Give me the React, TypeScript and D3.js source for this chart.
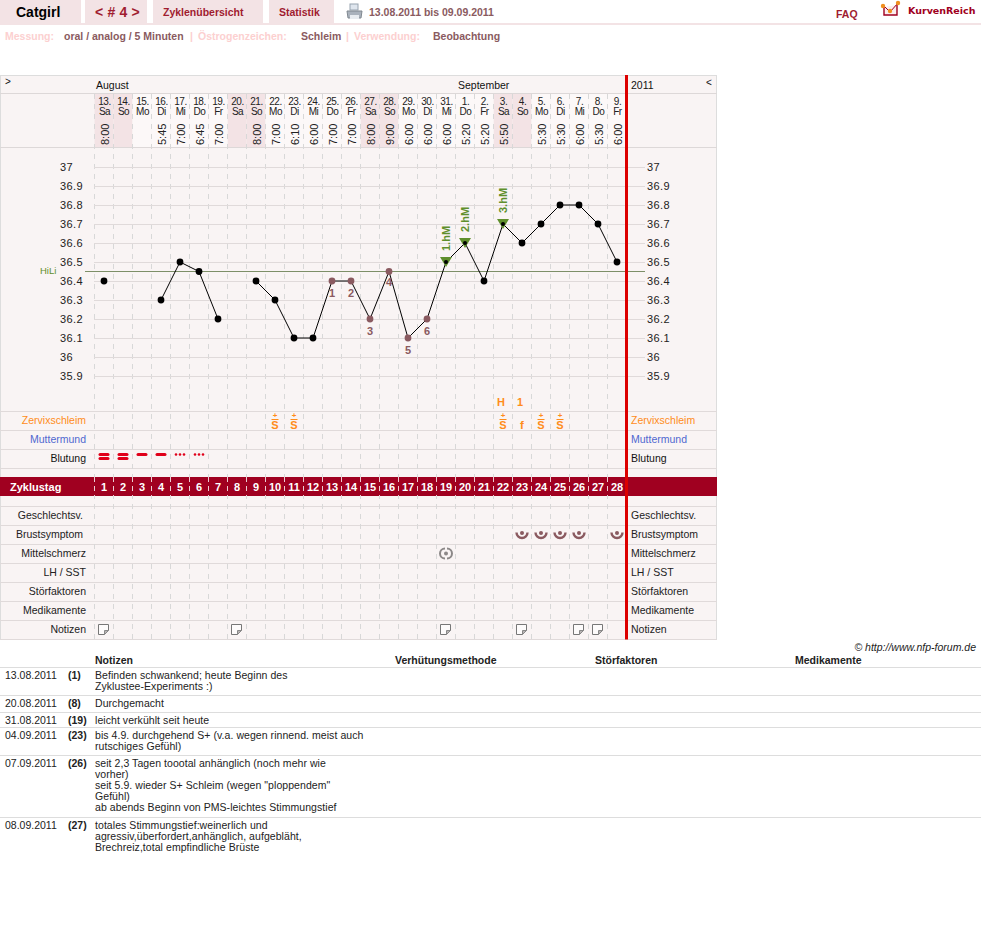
import React from "react";
import * as d3 from "d3";

const dayNumbers = ["13.","14.","15.","16.","17.","18.","19.","20.","21.","22.","23.","24.","25.","26.","27.","28.","29.","30.","31.","1.","2.","3.","4.","5.","6.","7.","8.","9."];
const weekdays = ["Sa","So","Mo","Di","Mi","Do","Fr","Sa","So","Mo","Di","Mi","Do","Fr","Sa","So","Mo","Di","Mi","Do","Fr","Sa","So","Mo","Di","Mi","Do","Fr"];
const times = ["8:00","","","5:45","7:00","6:45","7:00","","8:00","7:00","6:10","6:00","7:00","7:00","8:00","9:00","6:00","6:00","6:00","5:20","5:20","5:50","","5:30","5:30","6:00","5:30","6:00"];
const temps: (number | null)[] = [36.4,null,null,36.3,36.5,36.45,36.2,null,36.4,36.3,36.1,36.1,36.4,36.4,36.2,36.45,36.1,36.2,36.5,36.6,36.4,36.7,36.6,36.7,36.8,36.8,36.7,36.5];
const tempTicks = [37,36.9,36.8,36.7,36.6,36.5,36.4,36.3,36.2,36.1,36,35.9];
const coverLine = 36.45;
const lowDays = [[13,"1"],[14,"2"],[15,"3"],[16,"4"],[17,"5"],[18,"6"]] as [number,string][];
const highDays = [[19,"1.hM"],[20,"2.hM"],[22,"3.hM"]] as [number,string][];
const mucusDays = [10,11,22,24,25];
const fertileDay = [23];
const cervixTop = [[22,"H"],[23,"1"]] as [number,string][];
const bleedDouble = [1,2];
const bleedSingle = [3,4];
const bleedDots = [5,6];
const breastDays = [23,24,25,26,28];
const painDays = [19];
const noteDays = [1,8,19,23,26,27];
const rowLabels = [
  {name:"Zervixschleim",color:"#ff8c1a"},{name:"Muttermund",color:"#5068d0"},{name:"Blutung",color:"#111"},
];
const lowerLabels = ["Geschlechtsv.","Brustsymptom","Mittelschmerz","LH / SST","Störfaktoren","Medikamente","Notizen"];
const tableHeads = [["Notizen",95],["Verhütungsmethode",395],["Störfaktoren",595],["Medikamente",795]] as [string,number][];
const noteRows = [
  {date:"13.08.2011",day:"(1)",lines:["Befinden schwankend; heute Beginn des","Zyklustee-Experiments :)"]},
  {date:"20.08.2011",day:"(8)",lines:["Durchgemacht"]},
  {date:"31.08.2011",day:"(19)",lines:["leicht verkühlt seit heute"]},
  {date:"04.09.2011",day:"(23)",lines:["bis 4.9. durchgehend S+ (v.a. wegen rinnend. meist auch","rutschiges Gefühl)"]},
  {date:"07.09.2011",day:"(26)",lines:["seit 2,3 Tagen toootal anhänglich (noch mehr wie","vorher)","seit 5.9. wieder S+ Schleim (wegen \"ploppendem\"","Gefühl)","ab abends Beginn von PMS-leichtes Stimmungstief"]},
  {date:"08.09.2011",day:"(27)",lines:["totales Stimmungstief:weinerlich und","agressiv,überfordert,anhänglich, aufgebläht,","Brechreiz,total empfindliche Brüste"]},
];
const noteRowTops = [668,696,713,728,756,818];
const noteRules = [667,695,712,727,755,817];
const navTabs = [[0,81],[85,147],[153,263],[269,334]];

const FONT = "'Liberation Sans', Arial, sans-serif";
const days = d3.range(1, 29);
const x = d3.scaleBand<number>().domain(days).range([94.5, 626.5]);
const cx = (d: number) => (x(d) as number) + x.bandwidth() / 2;
const y = d3.scaleLinear().domain([35.9, 37]).range([376, 167]);
const GRID = "#e0dada", PANEL = "#f9f4f4", WEEKEND = "#f3e3e5", RED = "#a01c30", MUTED = "#8a5a60", CRIM = "#a00020", PINK="#fcd0d0", GREEN="#5f8f2c", BROWN="#8a5a60";
const upperRows = [411.5,430.5,449.5,468.5];
const lowerRows = [506.5,525.5,544.5,563.5,582.5,601.5,620.5,639.5];

export default function App() {
  const line = d3.line<number | null>()
    .defined((d) => d !== null)
    .x((_, i) => cx(i + 1))
    .y((d) => y(d as number));
  return (
    <svg width={981} height={933} style={{position:"absolute",left:0,top:0,fontFamily:FONT}}>
      <rect width={981} height={933} fill="#fff"/>
      {navTabs.map(([a,b],i)=><rect key={i} x={a} y={0} width={b-a} height={23} fill={WEEKEND}/>)}
      <rect x={0} y={23} width={981} height={2} fill={WEEKEND}/>
      <text x={16} y={17} fontSize={14} fontWeight="bold" fill="#000">Catgirl</text>
      <text x={95} y={17} fontSize={14} fontWeight="bold" fill={RED} style={{letterSpacing:"0.2px"}}>{"< # 4 >"}</text>
      <text x={163} y={16} fontSize={10.5} fontWeight="bold" fill={RED}>Zyklenübersicht</text>
      <text x={279} y={16} fontSize={10.5} fontWeight="bold" fill={RED}>Statistik</text>
      <g>
        <rect x={350} y={4} width={8} height={6} fill="#dfe6ee" stroke="#98a4b0"/>
        <path d="M347 11 h15 l-1 7 h-13 z" fill="#aab2bc" stroke="#808890"/>
        <rect x={350} y={15} width={9} height={4} fill="#e8ecf0"/>
      </g>
      <text x={369} y={16} fontSize={10.5} fontWeight="bold" fill={MUTED}>13.08.2011 bis 09.09.2011</text>
      <text x={836} y={18} fontSize={10.5} fontWeight="bold" fill={RED}>FAQ</text>
      <g>
        <path d="M884 7 v8 h13 v-10" fill="#fbeeee" stroke={CRIM} strokeWidth={1.4}/>
        <path d="M884 6 l6 6 l8 -9" fill="none" stroke={CRIM} strokeWidth={1}/>
        <circle cx={883} cy={6} r={2.2} fill="#f09020"/><circle cx={890} cy={11} r={2.2} fill="#f09020"/><circle cx={898} cy={3} r={2.2} fill="#f09020"/>
      </g>
      <text x={908} y={14} fontSize={9.5} fontWeight="bold" fill={CRIM} style={{fontFamily:"'DejaVu Sans'"}}>KurvenReich</text>

      {[["Messung:",5,PINK],["oral / analog / 5 Minuten",64,MUTED],["|",190,PINK],["Östrogenzeichen:",198,PINK],["Schleim",301,MUTED],["|",346,PINK],["Verwendung:",354,PINK],["Beobachtung",433,MUTED]].map(([t,px,c],i)=>
        <text key={i} x={px as number} y={40} fontSize={10.5} fontWeight="bold" fill={c as string}>{t}</text>)}

      <rect x={0.5} y={75.5} width={716} height={564} fill={PANEL} stroke="#ddd"/>
      {days.filter(d=>(d-1)%7<2 ).map(d=><rect key={d} x={x(d)} y={94} width={x.bandwidth()} height={54} fill={WEEKEND}/>)}
      {days.filter(d=>(d-1)%7>=2).map(d=><rect key={d} x={x(d)} y={94} width={x.bandwidth()} height={54} fill="#fcf8f8"/>)}
      {[93.5,147.5].map(v=><line key={v} x1={0} x2={717} y1={v} y2={v} stroke="#ddd8d8"/>)}
      {upperRows.concat(lowerRows).map(v=><line key={v} x1={0} x2={717} y1={v} y2={v} stroke={GRID}/>)}
      {days.map(d=><line key={d} x1={x(d)} x2={x(d)} y1={94} y2={639} stroke="#d8d8d8" strokeDasharray="5 5"/>)}

      <text x={5} y={85} fontSize={10} fill="#111">{">"}</text>
      <text x={96} y={89} fontSize={10.5} fill="#111">August</text>
      <text x={458} y={89} fontSize={10.5} fill="#111">September</text>
      <text x={631} y={89} fontSize={10.5} fill="#111">2011</text>
      <text x={706} y={86} fontSize={10} fill="#111">{"<"}</text>
      {days.map((d,i)=><g key={d} fontSize={10} fill="#222" textAnchor="middle" style={{letterSpacing:"-0.5px"}}>
        <text x={cx(d)+0.5} y={105}>{dayNumbers[i]}</text>
        <text x={cx(d)+0.5} y={115}>{weekdays[i]}</text>
        {times[i] && <text transform={`translate(${cx(d)+4.5},145) rotate(-90)`} fontSize={11} textAnchor="start" style={{letterSpacing:"0"}}>{times[i]}</text>}
      </g>)}

      {tempTicks.map(t=><g key={t}>
        <line x1={94} x2={645} y1={Math.round(y(t))+.5} y2={Math.round(y(t))+.5} stroke={GRID}/>
        <text x={60} y={y(t)+4} fontSize={11} fill="#222" style={{letterSpacing:"0.4px"}}>{t}</text>
        <text x={647} y={y(t)+4} fontSize={11} fill="#222" style={{letterSpacing:"0.4px"}}>{t}</text>
      </g>)}
      <line x1={85} x2={645} y1={Math.floor(y(coverLine))+.5} y2={Math.floor(y(coverLine))+.5} stroke="#7d8f68"/>
      <text x={40} y={274} fontSize={9.5} fill={GREEN}>HiLi</text>

      <path d={line(temps) ?? ""} fill="none" stroke="#000" strokeWidth={1}/>
      {highDays.map(([d,l])=>{const t=temps[d-1] as number;const py=y(t);return <g key={d}>
        <path d={`M${cx(d)-6} ${py-5} h12 l-6 10 z`} fill={GREEN}/>
        <text transform={`translate(${cx(d)+4},${py-11}) rotate(-90)`} fontSize={11} fontWeight="bold" fill={GREEN}>{l}</text>
      </g>})}
      {temps.map((t,i)=>t===null?null:(()=>{
        const d=i+1;
        const low=lowDays.some(l=>l[0]===d), high=highDays.some(l=>l[0]===d);
        return <circle key={d} cx={cx(d)} cy={y(t)} r={high?2:3.4} fill={low?BROWN:"#000"}/>;
      })())}
      {lowDays.map(([d,l])=><text key={d} x={cx(d)} y={y(temps[d-1] as number)+(d===16?14:15.5)} fontSize={11} fontWeight="bold" textAnchor="middle" fill={BROWN}>{l}</text>)}

      {cervixTop.map(([d,l])=><text key={d} x={cx(d)-2} y={406} fontSize={11} fontWeight="bold" textAnchor="middle" fill="#ff8c1a">{l}</text>)}
      {mucusDays.map(d=><g key={d} fill="#ff8c1a" textAnchor="middle">
        <text x={cx(d)} y={418} fontSize={8} fontWeight="bold">+</text>
        <text x={cx(d)} y={428.5} fontSize={11} fontWeight="bold">S</text>
        <rect x={cx(d)-3.5} y={419} width={7} height={1} />
      </g>)}
      {fertileDay.map(d=><text key={d} x={cx(d)} y={428.5} fontSize={11.5} fontWeight="bold" textAnchor="middle" fill="#ff8c1a">f</text>)}

      {bleedDouble.map(d=><g key={d} fill="#e0001a"><rect x={cx(d)-5.5} y={453} width={11} height={3} rx={1.5}/><rect x={cx(d)-5.5} y={457} width={11} height={3} rx={1.5}/></g>)}
      {bleedSingle.map(d=><rect key={d} x={cx(d)-5.5} y={453} width={11} height={3} rx={1.5} fill="#e0001a"/>)}
      {bleedDots.map(d=><g key={d} fill="#e0001a">{[-4,0,4].map(o=><circle key={o} cx={cx(d)+o} cy={454.5} r={1.3}/>)}</g>)}

      <rect x={0} y={477} width={717} height={19} fill={CRIM}/>
      <text x={10} y={491} fontSize={11} fontWeight="bold" fill="#fff">Zyklustag</text>
      {days.map(d=><g key={d}>
        <line x1={x(d)} x2={x(d)} y1={477} y2={496} stroke="#fff" strokeOpacity={.8} strokeDasharray="5 4"/>
        <text x={cx(d)} y={491} fontSize={11} fontWeight="bold" textAnchor="middle" fill="#fff">{d}</text>
      </g>)}

      {rowLabels.map((r,i)=><g key={r.name} fontSize={10.5} fill={r.color}>
        <text x={86} y={424+i*19} textAnchor="end">{r.name}</text>
        <text x={631} y={424+i*19}>{r.name}</text>
      </g>)}
      {lowerLabels.map((l,i)=><g key={l} fontSize={10.5} fill="#222">
        <text x={i<2?83:86} y={519+i*19} textAnchor="end">{l}</text>
        <text x={631} y={519+i*19}>{l}</text>
      </g>)}

      {breastDays.map(d=><g key={d}>
        <path d={`M${cx(d)-5.5} 532.5 a5.5 5.5 0 0 0 11 0`} fill="none" stroke={BROWN} strokeWidth={2.4}/>
        <circle cx={cx(d)} cy={533} r={2} fill={BROWN}/>
      </g>)}
      {painDays.map(d=><g key={d}>
        <path d={`M${cx(d)-1} 548.5 a5 5 0 0 0 0 10 M${cx(d)+1} 548.5 a5 5 0 0 1 0 10`} fill="none" stroke="#8c8888" strokeWidth={2}/>
        <circle cx={cx(d)} cy={553.5} r={2} fill="#8c8888"/>
      </g>)}
      {noteDays.map(d=><g key={d}>
        <path d={`M${cx(d)-5.5} 624.5 h10 v6 l-4 4 h-6 z`} fill="#fdfbfb" stroke="#777"/>
        <path d={`M${cx(d)+4.5} 630.5 h-4 v4 z`} fill="#b8b4b4" stroke="#888"/>
      </g>)}

      <rect x={625} y={75} width={3} height={564.5} fill="#dc0000"/>

      <text x={976} y={651} fontSize={10.5} fontStyle="italic" textAnchor="end" fill="#222">© http://www.nfp-forum.de</text>
      {tableHeads.map(([t,px])=><text key={t} x={px} y={664} fontSize={10.5} fontWeight="bold" fill="#222">{t}</text>)}
      {noteRules.map(v=><line key={v} x1={0} x2={981} y1={v+.5} y2={v+.5} stroke="#ddd"/>)}
      {noteRows.map((r,i)=>{const top=noteRowTops[i]+11;return <g key={r.date} fontSize={10.5} fill="#222">
        <text x={5} y={top}>{r.date}</text>
        <text x={68} y={top} fontWeight="bold">{r.day}</text>
        {r.lines.map((l,j)=><text key={j} x={95} y={top+j*11} style={{letterSpacing:"0.06px"}}>{l}</text>)}
      </g>})}
    </svg>
  );
}
